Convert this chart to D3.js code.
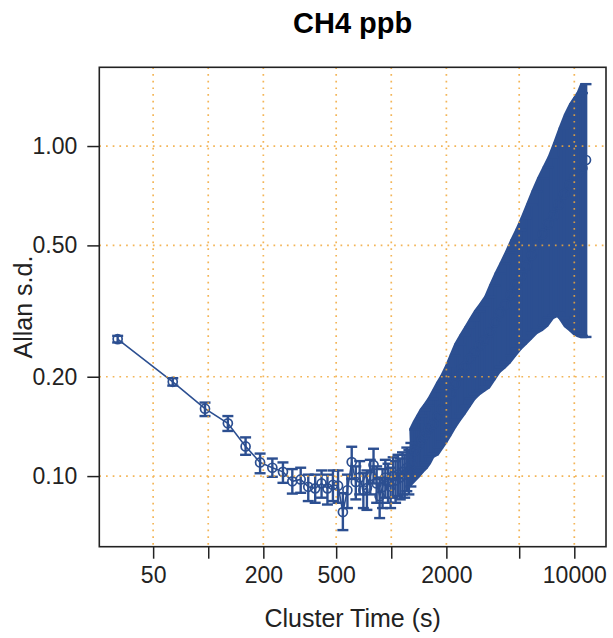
<!DOCTYPE html>
<html>
<head>
<meta charset="utf-8">
<script src="https://cdn.jsdelivr.net/npm/d3@7"></script>
<style>
  body { margin: 0; background: #fff; }
  svg { display: block; font-family: "Liberation Sans", Arial, sans-serif; }
</style>
</head>
<body>
<div id="chart"></div>
<script>
const W = 613, H = 638;
const margin = {top: 67.3, right: 7, bottom: 91.3, left: 99.3};
const width = W - margin.left - margin.right;
const height = H - margin.top - margin.bottom;

// Cluster times (s) and Allan s.d. with error limits
const tau = [32, 64, 96, 128, 160, 192, 224, 256, 288, 320,
  352, 384, 416, 448, 480, 512, 544, 576, 608, 640,
  672, 704, 736, 768, 800, 832, 864, 896, 928, 960,
  992, 1024, 1056, 1088, 1120, 1152, 1184, 1216, 1248, 1280,
  1344, 1408, 1472, 1536, 1600, 1696, 1792, 1888, 1984, 2112,
  2240, 2368, 2528, 2688, 2848, 3040, 3232, 3456, 3680, 3936,
  4192, 4480, 4800, 5120, 5472, 5856, 6272, 6720, 7200, 7680,
  8224, 8800, 9408, 10048, 10560, 11072, 11584];
const adev = [0.260, 0.193, 0.160, 0.1445, 0.123, 0.110, 0.106, 0.103, 0.0964, 0.0977,
  0.0928, 0.0918, 0.0950, 0.0918, 0.0940, 0.0935, 0.0778, 0.0906, 0.1103, 0.0960,
  0.0990, 0.0906, 0.0920, 0.1000, 0.1080, 0.0950, 0.0869, 0.0926, 0.0990, 0.0960,
  0.0930, 0.1000, 0.0970, 0.1010, 0.0990, 0.1030, 0.1010, 0.1060, 0.1040, 0.1090,
  0.1193, 0.1246, 0.1291, 0.1342, 0.1391, 0.1439, 0.1515, 0.1593, 0.1667, 0.178,
  0.1903, 0.2024, 0.2147, 0.2268, 0.2374, 0.2485, 0.2579, 0.2727, 0.2925, 0.3124,
  0.3307, 0.3538, 0.3806, 0.4046, 0.4336, 0.4676, 0.5034, 0.5415, 0.581, 0.6154,
  0.6656, 0.7148, 0.7626, 0.806, 0.831, 0.8565, 0.907];
const lower = [0.254, 0.188, 0.152, 0.137, 0.116, 0.102, 0.0995, 0.0954, 0.0885, 0.089,
  0.084, 0.083, 0.086, 0.082, 0.084, 0.083, 0.0686, 0.080, 0.098, 0.085,
  0.088, 0.080, 0.079, 0.088, 0.095, 0.083, 0.0746, 0.080, 0.086, 0.083,
  0.080, 0.086, 0.083, 0.087, 0.085, 0.088, 0.086, 0.090, 0.088, 0.093,
  0.1003, 0.1035, 0.1061, 0.1098, 0.1146, 0.1166, 0.122, 0.1272, 0.1332, 0.1413,
  0.1483, 0.1548, 0.1632, 0.1719, 0.1773, 0.1818, 0.186, 0.1967, 0.2072, 0.2141,
  0.2214, 0.2323, 0.2433, 0.2522, 0.2617, 0.2715, 0.2777, 0.2864, 0.3018, 0.3071,
  0.3131, 0.3016, 0.2852, 0.277, 0.27, 0.266, 0.264];
const upper = [0.266, 0.198, 0.167, 0.152, 0.131, 0.117, 0.113, 0.110, 0.105, 0.106,
  0.101, 0.101, 0.104, 0.101, 0.104, 0.104, 0.0888, 0.101, 0.1227, 0.107,
  0.111, 0.102, 0.104, 0.112, 0.121, 0.107, 0.0990, 0.105, 0.112, 0.109,
  0.106, 0.114, 0.111, 0.116, 0.113, 0.118, 0.116, 0.122, 0.120, 0.126,
  0.1383, 0.1457, 0.152, 0.1585, 0.1635, 0.1712, 0.181, 0.1913, 0.2001, 0.2147,
  0.2323, 0.25, 0.2662, 0.2817, 0.2974, 0.3151, 0.3298, 0.3486, 0.3778, 0.4106,
  0.44, 0.4753, 0.5178, 0.557, 0.6054, 0.6636, 0.7291, 0.7965, 0.8601, 0.9236,
  1.018, 1.128, 1.24, 1.335, 1.392, 1.447, 1.54];

// beyond this cluster time the error bars overlap into a solid band
const bandFrom = 1280;

const xTicks = [50, 100, 200, 500, 1000, 2000, 5000, 10000];
const xLabels = [50, 200, 500, 2000, 10000];
const yTicks = [0.1, 0.2, 0.5, 1.0];
const xDomain = [25.4, 14900];
const yDomain = [0.0611, 1.732];

const blue = "#2c4f91";
const gridColor = "#f2a93b";

const data = tau.map((t, i) => ({tau: t, adev: adev[i], lo: lower[i], hi: upper[i]}));

const svg = d3.select("#chart")
    .append("svg")
    .attr("width", W)
    .attr("height", H);

const g = svg.append("g")
    .attr("transform", `translate(${margin.left},${margin.top})`);

const x = d3.scaleLog().domain(xDomain).range([0, width]);
const y = d3.scaleLog().domain(yDomain).range([height, 0]);

const cap = 5.5;   // half width of an error bar cap
const half = 1.2;  // half the bar stroke

// band where the bars merge: outline through the outer cap ends of the overlapping bars
const band = data.filter(d => d.tau >= bandFrom);
const last = band.length - 1;
const topPts = [], botPts = [];
band.forEach((d, i) => {
    const cx = x(d.tau);
    const yt = y(d.hi) - half, yb = y(d.lo) + half;
    if (i === 0) {
        topPts.push([cx - half, yt]);
        botPts.push([cx - half, yb]);
    } else if (i === last) {
        topPts.push([cx - cap, yt], [cx + half, yt]);
        botPts.push([cx - cap, yb], [cx + half, yb]);
    } else {
        topPts.push([band[i + 1].hi >= d.hi ? cx - cap : cx + cap, yt]);
        botPts.push([band[i + 1].lo >= d.lo ? cx + cap : cx - cap, yb]);
    }
});

g.append("path")
    .attr("fill", blue)
    .attr("d", d3.line()(topPts.concat(botPts.reverse())) + "Z");

// connecting line
g.append("path")
    .datum(data)
    .attr("fill", "none")
    .attr("stroke", blue)
    .attr("stroke-width", 1.6)
    .attr("d", d3.line().x(d => x(d.tau)).y(d => y(d.adev)));

// error bars
const bars = g.append("g")
    .attr("stroke", blue)
    .attr("stroke-width", 2.4)
    .attr("fill", "none");

bars.selectAll(".bar")
    .data(data)
    .join("line")
    .attr("class", "bar")
    .attr("x1", d => x(d.tau)).attr("x2", d => x(d.tau))
    .attr("y1", d => y(d.lo)).attr("y2", d => y(d.hi));

bars.selectAll(".capHi")
    .data(data)
    .join("line")
    .attr("class", "capHi")
    .attr("x1", d => x(d.tau) - cap).attr("x2", d => x(d.tau) + cap)
    .attr("y1", d => y(d.hi)).attr("y2", d => y(d.hi));

bars.selectAll(".capLo")
    .data(data)
    .join("line")
    .attr("class", "capLo")
    .attr("x1", d => x(d.tau) - cap).attr("x2", d => x(d.tau) + cap)
    .attr("y1", d => y(d.lo)).attr("y2", d => y(d.lo));

// points
g.append("g")
    .selectAll("circle")
    .data(data)
    .join("circle")
    .attr("cx", d => x(d.tau))
    .attr("cy", d => y(d.adev))
    .attr("r", 4.5)
    .attr("fill", "none")
    .attr("stroke", blue)
    .attr("stroke-width", 1.7);

// grid (drawn over the data)
const grid = g.append("g")
    .attr("stroke", gridColor)
    .attr("stroke-width", 1.7)
    .attr("stroke-dasharray", "1.7 5")
    .attr("opacity", 0.85);

grid.selectAll(".gx")
    .data(xTicks)
    .join("line")
    .attr("class", "gx")
    .attr("x1", d => x(d)).attr("x2", d => x(d))
    .attr("y1", 0).attr("y2", height);

grid.selectAll(".gy")
    .data(yTicks)
    .join("line")
    .attr("class", "gy")
    .attr("x1", 0).attr("x2", width)
    .attr("y1", d => y(d)).attr("y2", d => y(d));

// axes
const xAxis = d3.axisBottom(x)
    .tickValues(xTicks)
    .tickFormat(d => xLabels.includes(d) ? String(d) : "")
    .tickSize(12)
    .tickPadding(8);

const yAxis = d3.axisLeft(y)
    .tickValues(yTicks)
    .tickFormat(d3.format(".2f"))
    .tickSize(12)
    .tickPadding(10);

const gx = g.append("g")
    .attr("transform", `translate(0,${height})`)
    .call(xAxis);
const gy = g.append("g").call(yAxis);

[gx, gy].forEach(a => {
    a.select(".domain").remove();
    a.selectAll(".tick line").attr("stroke", "#222").attr("stroke-width", 1.5);
    a.selectAll(".tick text")
        .attr("fill", "#222")
        .style("font-size", "23px")
        .style("font-family", "\"Liberation Sans\", Arial, sans-serif");
});

// panel border
g.append("rect")
    .attr("width", width)
    .attr("height", height)
    .attr("fill", "none")
    .attr("stroke", "#222")
    .attr("stroke-width", 1.6);

// labels
svg.append("text")
    .attr("x", margin.left + width / 2)
    .attr("y", 33)
    .attr("text-anchor", "middle")
    .style("font-size", "29px")
    .style("font-weight", "bold")
    .text("CH4 ppb");

svg.append("text")
    .attr("x", margin.left + width / 2)
    .attr("y", 627)
    .attr("text-anchor", "middle")
    .attr("fill", "#222")
    .style("font-size", "25px")
    .text("Cluster Time (s)");

svg.append("text")
    .attr("transform", `translate(32,${margin.top + height / 2}) rotate(-90)`)
    .attr("text-anchor", "middle")
    .attr("fill", "#222")
    .style("font-size", "25px")
    .text("Allan s.d.");
</script>
</body>
</html>
